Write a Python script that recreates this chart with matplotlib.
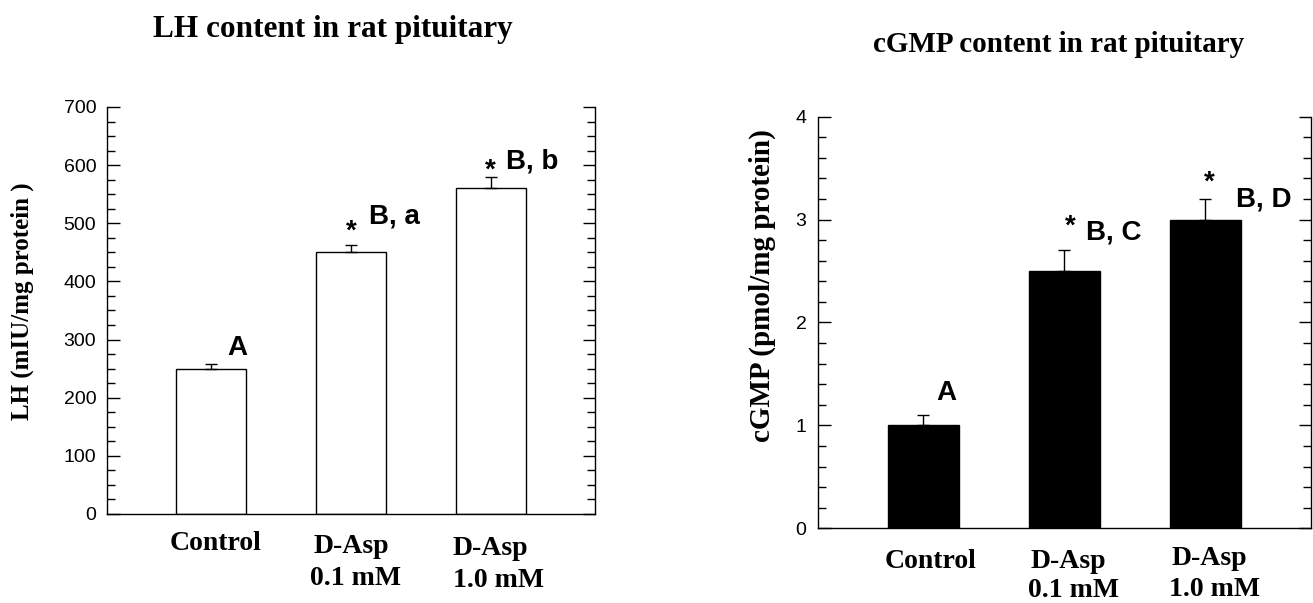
import numpy as np
import matplotlib.pyplot as plt
from matplotlib.ticker import MultipleLocator

SERIF = 'Liberation Serif'
SANS = 'Liberation Sans'
plt.rcParams['font.family'] = SANS

# data
groups = [1, 2, 3]
lab_top = ['Control', 'D-Asp', 'D-Asp']
lab_bot = ['', '0.1 mM', '1.0 mM']

lh_mean = [250, 450, 560]
lh_err = [8, 12, 20]
lh_letters = ['A', 'B, a', 'B, b']

cgmp_mean = [1.0, 2.5, 3.0]
cgmp_err = [0.1, 0.2, 0.2]
cgmp_letters = ['A', 'B, C', 'B, D']

fig = plt.figure(figsize=(13.13, 6.03), dpi=100)
ax1 = fig.add_axes([0.0812, 0.1476, 0.3723, 0.675])
ax2 = fig.add_axes([0.6227, 0.1239, 0.3758, 0.6826])


def draw_panel(ax, means, errs, fill, ymax, major, minor, pad):
    ax.bar(groups, means, width=0.5, color=fill, edgecolor='black', linewidth=1)
    ax.errorbar(groups, means, yerr=[np.zeros(len(errs)), errs], fmt='none',
                ecolor='black', elinewidth=1, capsize=4, capthick=1)
    ax.set_xlim(0.25, 3.75)
    ax.set_ylim(0, ymax)
    ax.yaxis.set_major_locator(MultipleLocator(major))
    ax.yaxis.set_minor_locator(MultipleLocator(minor))
    ax.tick_params(axis='y', which='both', direction='in', left=True, right=True,
                   labelsize=14, width=1, pad=pad)
    ax.tick_params(axis='y', which='major', length=9)
    ax.tick_params(axis='y', which='minor', length=5.5)
    ax.set_xticks([])
    ax.spines['top'].set_visible(False)
    for s in ['left', 'right', 'bottom']:
        ax.spines[s].set_linewidth(1)
    for lab in ax.get_yticklabels():
        lab.set_fontfamily(SANS)


draw_panel(ax1, lh_mean, lh_err, 'white', 700, 100, 25, 7.5)
draw_panel(ax2, cgmp_mean, cgmp_err, 'black', 4, 1, 0.2, 8)

ann = dict(fontsize=20, fontweight='bold', family=SANS, va='baseline')
serifb = dict(fontsize=20, fontweight='bold', family=SERIF, va='baseline')

# left panel annotations
ax1.text(1.183, 273.5, lh_letters[0], ha='center', **ann)
ax1.text(2.0, 473, '*', ha='center', **ann)
ax1.text(2.132, 498.8, lh_letters[1], ha='left', **ann)
ax1.text(3.0, 578, '*', ha='center', **ann)
ax1.text(3.107, 594.6, lh_letters[2], ha='left', **ann)

# right panel annotations
ax2.text(1.161, 1.247, cgmp_letters[0], ha='center', **ann)
ax2.text(2.04, 2.865, '*', ha='center', **ann)
ax2.text(2.154, 2.808, cgmp_letters[1], ha='left', **ann)
ax2.text(3.03, 3.295, '*', ha='center', **ann)
ax2.text(3.218, 3.125, cgmp_letters[2], ha='left', **ann)

# category labels (x offset, baseline in axes fraction)
tr1 = ax1.get_xaxis_transform()
dx1_top = [0.03, 0.0, -0.005]
dx1_bot = [0.0, 0.035, 0.055]
y1_top = [-0.088, -0.096, -0.101]
y1_bot = [0.0, -0.174, -0.180]
for i, g in enumerate(groups):
    ax1.text(g + dx1_top[i], y1_top[i], lab_top[i], transform=tr1, ha='center', **serifb)
    if lab_bot[i]:
        ax1.text(g + dx1_bot[i], y1_bot[i], lab_bot[i], transform=tr1, ha='center', **serifb)

tr2 = ax2.get_xaxis_transform()
dx2_top = [0.054, 0.026, 0.031]
dx2_bot = [0.0, 0.062, 0.066]
y2_top = [-0.097, -0.097, -0.089]
y2_bot = [0.0, -0.167, -0.1645]
for i, g in enumerate(groups):
    ax2.text(g + dx2_top[i], y2_top[i], lab_top[i], transform=tr2, ha='center', **serifb)
    if lab_bot[i]:
        ax2.text(g + dx2_bot[i], y2_bot[i], lab_bot[i], transform=tr2, ha='center', **serifb)

# axis labels and titles
fig.text(22 / 1313, 1 - 301 / 603, 'LH (mIU/mg protein )', rotation=90, ha='center',
         va='center', fontsize=18, fontweight='bold', family=SERIF)
fig.text(762 / 1313, 1 - 286 / 603, 'cGMP (pmol/mg protein)', rotation=90, ha='center',
         va='center', fontsize=21, fontweight='bold', family=SERIF)

fig.text(333 / 1313, 1 - 37 / 603, 'LH content in rat pituitary', ha='center',
         va='baseline', fontsize=22.5, fontweight='bold', family=SERIF)
fig.text(1059 / 1313, 1 - 52 / 603, 'cGMP content in rat pituitary', ha='center',
         va='baseline', fontsize=21, fontweight='bold', family=SERIF)

fig.savefig('out.png', dpi=100)
